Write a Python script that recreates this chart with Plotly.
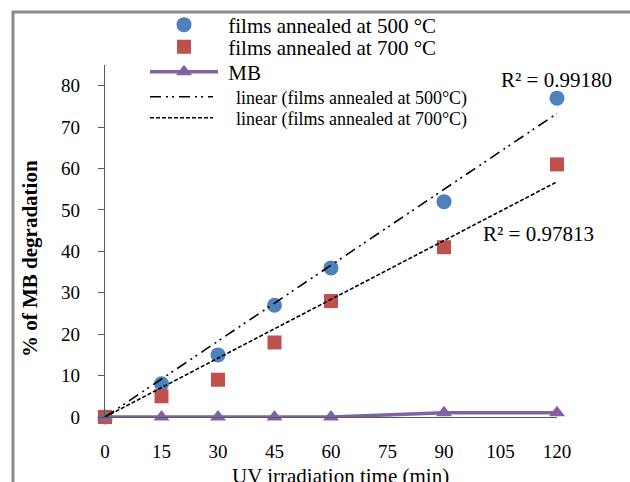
import numpy as np
import plotly.graph_objects as go

# ---- data ----
time_min = [0, 15, 30, 45, 60, 90, 120]
deg_500 = [0, 8, 15, 27, 36, 52, 77]
deg_700 = [0, 5, 9, 18, 28, 41, 61]
deg_mb = [0, 0, 0, 0, 0, 1, 1]
x_ticks = [0, 15, 30, 45, 60, 75, 90, 105, 120]
y_ticks = [0, 10, 20, 30, 40, 50, 60, 70, 80]
r2_500 = "R² = 0.99180"
r2_700 = "R² = 0.97813"

# linear trendlines through origin (least squares)
x = np.array(time_min, float)
slope_500 = float(np.sum(x * np.array(deg_500)) / np.sum(x * x))
slope_700 = float(np.sum(x * np.array(deg_700)) / np.sum(x * x))
trend_x = [0, 120]

W, H = 630, 482
L, R, T, B = 105, 557, 65, 417  # plot area pixels


def px(xp):
    return (xp - L) / (R - L)


def py(yp):
    return (B - yp) / (B - T)


FONT = "Liberation Serif"
BLUE, RED, PURPLE = "#4F81BD", "#C0504D", "#8064A2"
NB = "\u00a0"

fig = go.Figure()
fig.add_trace(go.Scatter(x=time_min, y=deg_500, mode="markers", name=NB + "films annealed at 500 °C",
                         marker=dict(symbol="circle", size=15, color=BLUE), cliponaxis=False,
                         legend="legend"))
fig.add_trace(go.Scatter(x=time_min, y=deg_700, mode="markers", name=NB + "films annealed at 700 °C",
                         marker=dict(symbol="square", size=14, color=RED), cliponaxis=False,
                         legend="legend2"))
fig.add_trace(go.Scatter(x=time_min, y=deg_mb, mode="lines+markers", name=NB + "MB",
                         line=dict(color=PURPLE, width=3.5),
                         marker=dict(symbol="triangle-up", size=14, color=PURPLE), cliponaxis=False,
                         legend="legend3"))
fig.add_trace(go.Scatter(x=trend_x, y=[slope_500 * v for v in trend_x], mode="lines",
                         name=NB * 4 + "linear (films annealed at 500°C)",
                         line=dict(color="black", width=1.6, dash="11px,5px,2px,4px,2px,5px"),
                         legend="legend4"))
fig.add_trace(go.Scatter(x=trend_x, y=[slope_700 * v for v in trend_x], mode="lines",
                         name=NB * 4 + "linear (films annealed at 700°C)",
                         line=dict(color="black", width=1.6, dash="4px,2px"),
                         legend="legend5"))


def leg(cy, size, iw):
    return dict(x=px(145), y=py(cy), xanchor="left", yanchor="middle",
                bgcolor="rgba(0,0,0,0)", font=dict(family=FONT, size=size),
                itemwidth=iw, borderwidth=0)


fig.update_layout(
    width=W, height=H,
    margin=dict(l=L, r=W - R, t=T, b=H - B, autoexpand=False),
    paper_bgcolor="white", plot_bgcolor="white",
    font=dict(family=FONT, size=19, color="black"),
    showlegend=True,
    legend=leg(25, 21, 68),
    legend2=leg(47, 21, 68),
    legend3=leg(72, 21, 68),
    legend4=leg(97, 18, 63),
    legend5=leg(118, 18, 63),
    xaxis=dict(range=[0, 120], tickvals=x_ticks, showgrid=False, zeroline=False,
               showline=True, linecolor="#595959", linewidth=1, ticks="",
               ticklabelstandoff=17, tickfont=dict(family=FONT, size=19)),
    yaxis=dict(range=[0, 85], tickvals=y_ticks, showgrid=False, zeroline=False,
               showline=True, linecolor="#595959", linewidth=1.3, ticks="outside",
               ticklen=6, tickcolor="#595959", tickwidth=1.3, ticklabelstandoff=14,
               tickfont=dict(family=FONT, size=19)),
    annotations=[
        dict(text=r2_500, x=px(556), y=py(80), xref="paper", yref="paper", showarrow=False,
             xanchor="center", yanchor="middle", font=dict(family=FONT, size=21)),
        dict(text=r2_700, x=px(538), y=py(234), xref="paper", yref="paper", showarrow=False,
             xanchor="center", yanchor="middle", font=dict(family=FONT, size=21)),
        dict(text="<b>% of MB degradation</b>", x=px(30), y=py(259), xref="paper", yref="paper",
             showarrow=False, textangle=-90, xanchor="center", yanchor="middle",
             font=dict(family=FONT, size=21)),
        dict(text="UV irradiation time (min)", x=px(340), y=py(476), xref="paper", yref="paper",
             showarrow=False, xanchor="center", yanchor="middle", font=dict(family=FONT, size=21)),
    ],
    shapes=[
        dict(type="path", xref="paper", yref="paper",
             path=f"M {px(13)},{py(490)} L {px(13)},{py(12)} L {px(640)},{py(12)}",
             line=dict(color="#8c8c8c", width=3)),
    ],
)

fig.write_html("out.html", config={"displayModeBar": False},
               post_script="document.body.style.margin='0px';")
